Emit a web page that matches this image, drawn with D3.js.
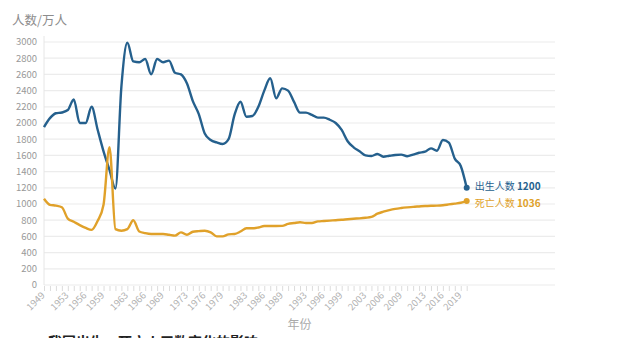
<!DOCTYPE html>
<html><head><meta charset="utf-8">
<script src="https://cdn.jsdelivr.net/npm/d3@7"></script>
<style>body{margin:0;background:#fff}svg{display:block;font-family:"Noto Sans CJK SC","Noto Sans",sans-serif}</style>
</head><body><svg id="c" width="618" height="338"></svg>
<script>
const years = d3.range(1949, 2021);
const births = [1950,2060,2120,2130,2160,2290,2000,2000,2200,1920,1650,1420,1190,2450,2990,2760,2750,2790,2600,2790,2750,2770,2620,2600,2490,2270,2110,1870,1790,1760,1740,1800,2100,2263,2078,2086,2200,2400,2552,2305,2428,2400,2260,2128,2128,2100,2066,2066,2040,2000,1914,1775,1700,1650,1600,1593,1617,1584,1595,1605,1610,1590,1610,1633,1646,1687,1658,1790,1757,1560,1470,1200];
const deaths = [1065,990,980,960,820,780,740,705,680,790,990,1700,690,670,690,800,660,640,630,630,630,620,610,650,620,658,665,670,650,600,600,625,630,660,700,700,710,728,728,728,730,755,765,775,765,765,785,790,795,800,805,812,818,823,830,840,880,905,925,940,950,958,965,970,975,978,980,985,995,1005,1015,1036];
const yTicks = d3.range(0, 3001, 200);
const xTickLabels = [1949,1953,1956,1959,1963,1966,1969,1973,1976,1979,1983,1986,1989,1993,1996,1999,2003,2006,2009,2013,2016,2019];
const seriesNames = ["出生人数","死亡人数"];
const colors = ["#25608d","#e0a12a"];

const svg = d3.select("#c");
const x = d3.scaleLinear().domain([1949, 2020]).range([44, 466.7]);
const y = d3.scaleLinear().domain([0, 3000]).range([285, 42]);
const gridRight = 555;

// grid
svg.append("g").selectAll("line").data(yTicks).join("line")
  .attr("x1", 44).attr("x2", gridRight)
  .attr("y1", d => y(d)).attr("y2", d => y(d))
  .attr("stroke", "#ececec").attr("stroke-width", 1.2);
// y axis line
svg.append("line").attr("x1", 44).attr("x2", 44).attr("y1", 36).attr("y2", 285)
  .attr("stroke", "#e6e6e6");
// y labels
svg.append("g").selectAll("text").data(yTicks).join("text")
  .attr("x", 37).attr("y", d => y(d)).attr("dy", "0.35em")
  .attr("text-anchor", "end").attr("font-size", 9.5).attr("fill", "#999")
  .text(d => d);
// y title
svg.append("text").attr("x", 12).attr("y", 25).attr("font-size", 12.5).attr("fill", "#8c8c8c").text("人数/万人");

// x ticks
const xAxis = d3.axisBottom(x).tickValues(years).tickSize(5).tickFormat("");
const gx = svg.append("g").attr("transform", "translate(0,286)").call(xAxis);
gx.select(".domain").remove();
gx.selectAll("line").attr("stroke", "#dcdcdc");
svg.append("g").selectAll("text").data(xTickLabels).join("text")
  .attr("transform", d => `translate(${x(d)+1.5},${296}) rotate(-45)`)
  .attr("text-anchor", "end").attr("font-size", 9.5).attr("fill", "#b0b0b0")
  .text(d => d);
svg.append("text").attr("x", (44 + gridRight) / 2).attr("y", 329).attr("text-anchor", "middle")
  .attr("font-size", 12).attr("fill", "#aaa").text("年份");

// lines
const line = d3.line().x((d, i) => x(years[i])).y(d => y(d)).curve(d3.curveMonotoneX);
const labelShift = [-1, 2];
[births, deaths].forEach((s, k) => {
  svg.append("path").attr("d", line(s)).attr("fill", "none")
    .attr("stroke", colors[k]).attr("stroke-width", 2.4).attr("stroke-linejoin", "round");
  const last = s[s.length - 1];
  svg.append("circle").attr("cx", x(2020)).attr("cy", y(last)).attr("r", 3).attr("fill", colors[k]);
  const t = svg.append("text").attr("x", x(2020) + 8).attr("y", y(last) + labelShift[k]).attr("dy", "0.35em")
    .attr("font-size", 10).attr("fill", colors[k]);
  t.append("tspan").text(seriesNames[k] + " ");
  t.append("tspan").attr("font-weight", "bold").text(last);
});

// cut-off caption (cut at the bottom edge as in the reference)
svg.append("text").attr("x", 48).attr("y", 347).attr("font-size", 14).attr("font-weight", "bold")
  .attr("fill", "#222").text("我国出生、死亡人口数变化的影响");
</script></body></html>
